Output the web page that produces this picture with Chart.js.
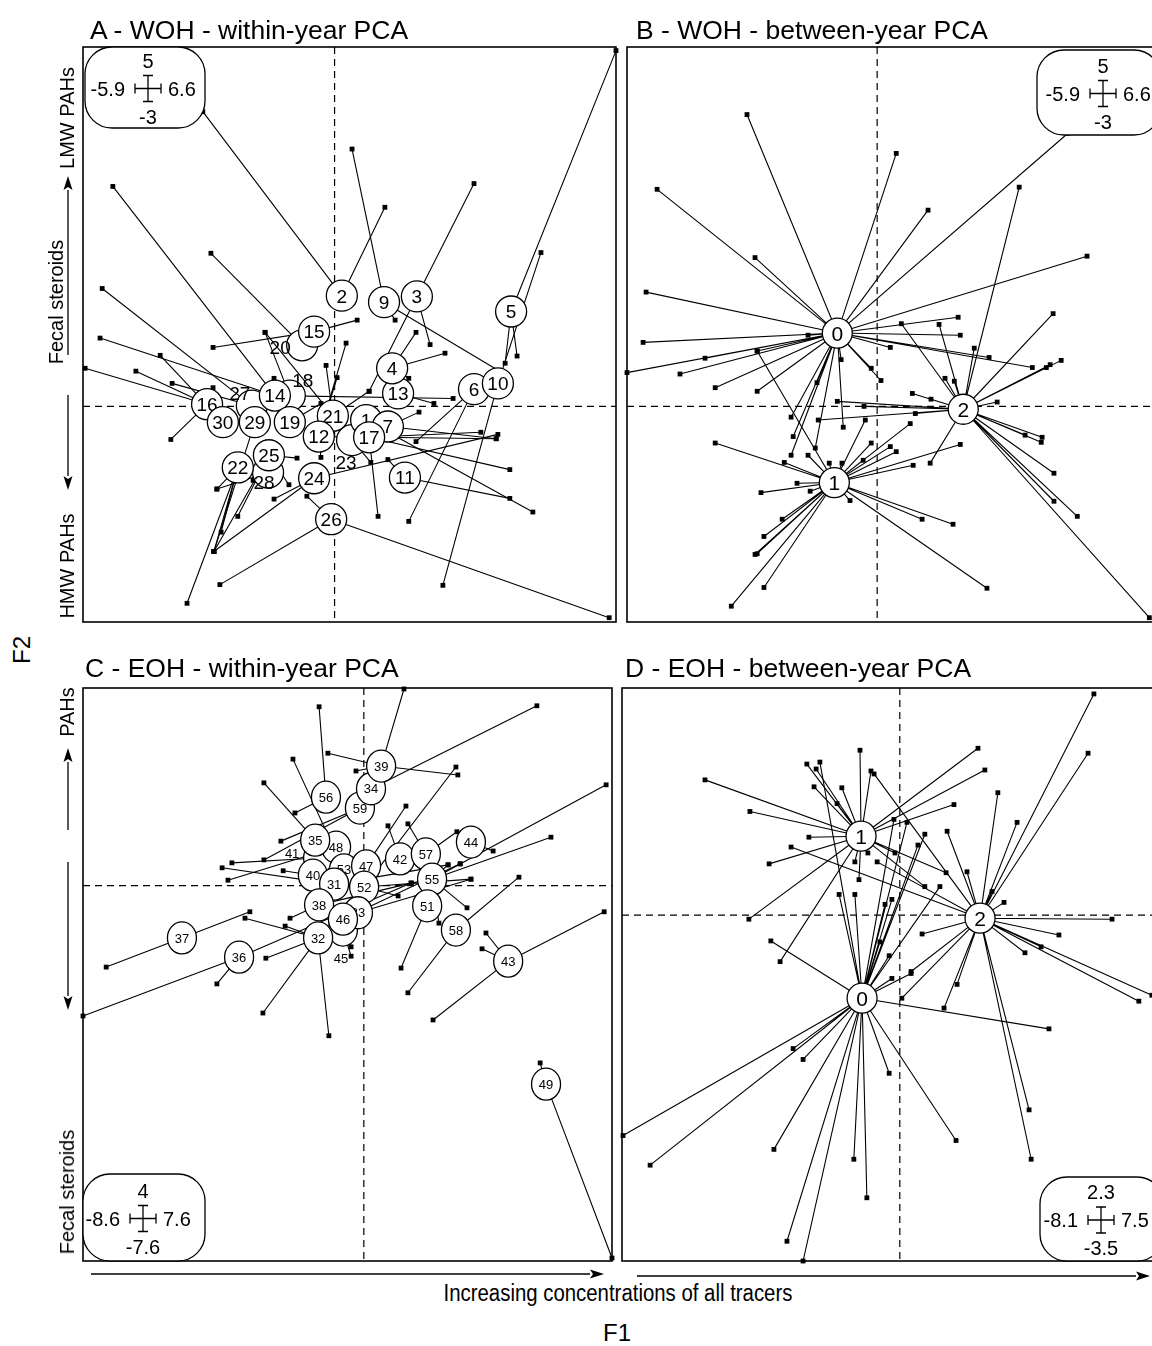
<!DOCTYPE html>
<html>
<head>
<meta charset="utf-8">
<script src="https://cdn.jsdelivr.net/npm/chart.js@4.4.1/dist/chart.umd.min.js"></script>
<style>
html,body{margin:0;padding:0;background:#fff;}
body{width:1152px;height:1346px;overflow:hidden;position:relative;font-family:"Liberation Sans",Arial,Helvetica,sans-serif;color:#000;}
canvas{position:absolute;}
.lbl{position:absolute;white-space:pre;line-height:1;}
</style>
</head>
<body>
<svg id="deco" width="1152" height="1346" style="position:absolute;left:0;top:0;"></svg>
<script>
// ================= DATA =================
// ---- Panel A : WOH within-year PCA ----
const aXRange = [-5.9, 6.6];
const aYRange = [-3, 5];
const aCentroids = ['20','27','18','23','28','1','7','21','13','4','2','9','3','5','6','10','15','14','16','30','29','19','12','17','22','25','24','11','26'];
const aCentroidX = [-0.76,-1.94,-1.05,0.41,-1.56,0.74,1.25,-0.04,1.49,1.35,0.17,1.16,1.93,4.14,3.27,3.83,-0.48,-1.40,-2.99,-2.62,-1.87,-1.05,-0.37,0.81,-2.27,-1.54,-0.48,1.65,-0.08];
const aCentroidY = [0.85,0.01,0.15,-0.47,-0.92,-0.19,-0.28,-0.13,0.18,0.53,1.54,1.45,1.53,1.32,0.24,0.32,1.04,0.15,0.03,-0.22,-0.22,-0.22,-0.42,-0.43,-0.85,-0.68,-1.00,-0.99,-1.57];
const aPointGroup = ['2','9','14','2','3','5','10','20','27','14','15','21','12','9','4','3','4','5','5','15','30','16','16','27','14','13','7','17','24','12','6','17','11','1','17','6','10','26','26','22','22','25','24','29','22','25','22','28','24','26','25','25','12','23','11','16','21','21','12','19','14','16','4','21','3','18','28','9','7'];
const aPointX = [-3.09,0.41,-5.20,1.18,3.27,6.60,4.84,-2.90,-5.45,-5.50,0.53,-1.63,0.27,1.42,1.91,2.24,2.59,4.28,4.00,-2.85,-4.09,-5.85,-4.66,-3.81,2.78,2.33,1.98,3.43,3.83,3.79,1.91,4.11,4.11,4.65,1.02,1.74,2.54,6.44,-2.69,-3.46,-2.83,-2.83,-2.83,-2.83,-2.66,-2.27,-2.76,-1.91,-1.42,-0.65,-1.07,-0.88,-0.32,0.85,1.25,-3.84,0.81,-0.20,0.06,-0.32,-1.42,-2.85,1.74,0.27,0.81,-1.63,-2.76,3.95,3.79];
const aPointY = [4.10,3.58,3.06,2.77,3.10,4.95,2.14,2.13,1.64,0.95,1.20,1.03,0.88,1.20,1.03,0.86,0.74,0.70,0.60,0.82,0.71,0.53,0.49,0.32,0.11,0.04,-0.08,-0.36,-0.39,-0.45,-0.49,-0.88,-1.28,-1.47,-1.53,-1.60,-2.49,-2.94,-2.48,-2.74,-2.02,-2.02,-2.02,-2.02,-1.75,-1.53,-1.15,-1.03,-1.29,-1.25,-1.09,-0.72,-0.71,-0.78,-0.74,-0.46,0.21,0.57,0.40,0.04,0.39,0.26,0.39,-0.51,0.21,1.03,-1.15,0.46,-0.45];

// ---- Panel B : WOH between-year PCA ----
const bXRange = [-5.9, 6.6];
const bYRange = [-3, 5];
const bCentroids = ['1','2','0'];
const bCentroidX = [-1.01, 2.03, -0.94];
const bCentroidY = [-1.06, -0.04, 1.02];
const bPointGroup = ['0','0','0','0','0','0','0','0','0','0','0','0','0','0','0','0','0','0','0','0','0','0','0','0','0','0','0','0','0','0',
  '2','2','2','2','2','2','2','2','2','2','2','2','2','2','2','2','2','2','2','2','2','2','2','2','2',
  '1','1','1','1','1','1','1','1','1','1','1','1','1','1','1','1','1','1','1','1','1','1','1','1','1','1','1'];
const bPointX = [-3.07,0.45,-5.19,1.20,4.95,-2.88,-5.45,1.91,1.96,4.50,-5.52,-5.90,-4.06,-4.65,-3.82,-2.83,-2.83,-1.63,0.31,3.66,-0.14,0.09,-2.03,-1.98,-2.03,-0.85,-0.80,-1.42,-1.46,2.64,
  4.34,4.08,3.99,2.83,3.89,3.87,3.49,4.17,4.72,4.17,6.42,1.25,-1.39,-0.31,-0.94,0.90,1.27,0.83,1.60,1.82,2.29,3.35,4.15,1.46,0.57,
  -3.82,-2.74,-1.89,-1.58,-2.24,-2.67,-2.83,-2.88,-2.67,-3.44,-0.64,1.06,1.79,2.59,1.96,-1.13,-0.83,-1.63,-0.28,0.78,0.45,0.31,-0.33,-0.14,-2.19,0.85,-2.83];
const bPointY = [4.06,3.52,3.02,2.73,2.09,2.07,1.59,1.24,0.99,3.80,0.89,0.47,0.67,0.45,0.26,0.21,0.77,0.99,0.82,0.54,0.53,0.36,-0.15,-0.42,-0.68,0.65,-0.29,0.33,-0.58,0.68,
  0.64,0.58,0.54,0.06,-0.43,-0.50,-0.40,-0.93,-1.53,-1.32,-2.94,-0.79,-0.19,0.00,0.07,-0.10,0.10,0.18,0.39,0.35,0.81,3.05,1.29,1.14,1.15,
  -0.51,-1.20,-1.07,-1.18,-1.57,-1.81,-2.05,-2.06,-2.52,-2.78,-1.31,-1.57,-1.64,-2.53,-0.53,-0.79,-0.79,-0.68,-0.19,-0.24,-0.63,-0.56,-0.75,-0.51,-0.78,-0.82,0.77];

// ---- Panel C : EOH within-year PCA ----
const cXRange = [-8.6, 7.6];
const cYRange = [-7.6, 4];
const cCentroids = ['41','45','48','59','34','39','56','35','53','40','31','47','52','42','57','55','44','38','33','46','32','51','58','37','36','43','49'];
const cCentroidX = [-1.40,-0.64,-0.85,-0.12,0.22,0.53,-1.16,-1.49,-0.61,-1.56,-0.91,0.07,0.01,1.11,1.90,2.09,3.28,-1.37,-0.18,-0.64,-1.40,1.94,2.82,-5.57,-3.82,4.42,5.58];
const cCentroidY = [0.56,-0.90,0.78,1.57,1.96,2.42,1.79,0.92,0.32,0.21,0.03,0.40,-0.03,0.54,0.64,0.13,0.88,-0.39,-0.55,-0.68,-1.06,-0.41,-0.90,-1.06,-1.45,-1.53,-4.02];
const cPointGroup = ['39','34','56','39','39','39','52','53','35','56','59','59','48','41','40','31','47','42','57','57','44','55','55','55','55','52','55','58','55','51','58','43','43','43','37','32','32','38','37','36','32','46','45','52','55','36','32','32','43','49','49','33','31','36','46','38'];
const cPointX = [1.23,5.30,-1.37,-1.10,-0.24,2.88,2.82,-2.17,-3.06,-2.11,-2.54,-3.06,-4.16,-4.04,-2.47,-4.34,1.29,0.74,1.35,2.85,3.96,7.42,5.73,2.95,2.58,3.28,3.16,4.75,2.30,1.14,1.35,3.74,3.62,7.36,-3.49,-3.64,-2.41,-2.26,-7.89,-4.50,-3.00,-0.39,-0.39,1.05,1.45,-8.60,-3.09,-1.07,2.12,5.40,7.60,3.28,2.58,1.45,2.95,1.45];
const cPointY = [3.98,3.64,3.62,2.68,2.32,2.24,2.40,2.56,2.08,1.47,0.90,0.52,0.11,0.46,0.30,0.36,1.61,1.21,1.25,1.09,0.70,2.04,0.98,0.44,0.42,0.13,-0.45,0.17,-0.76,-1.67,-2.17,-0.96,-1.28,-0.53,-0.53,-0.66,-0.82,-0.66,-1.65,-1.99,-1.47,-1.24,-1.43,-0.21,0.05,-2.64,-2.58,-3.04,-2.72,-3.59,-7.54,0.13,0.42,0.05,0.44,0.05];

// ---- Panel D : EOH between-year PCA ----
const dXRange = [-8.1, 7.5];
const dYRange = [-3.5, 2.3];
const dCentroids = ['1','2','0'];
const dCentroidX = [-1.13, 2.34, -1.10];
const dCentroidY = [0.80, -0.03, -0.84];
const dPointGroup = ['2','2','1','1','1','1','1','1','0','1','1','1','1','2','1','1','2','1','1','1','0','1','1','1','1','2','1','0','0','0','0','2','1','2','1','0','0','0','0','0','2','2','2','2','2','2','2','2','2','0','2','0','2','2','0','0','2','2','2','0','2','2','0','0','0','0','0','0','0','0','0','0','0'];
const dPointX = [5.66,5.49,2.28,2.48,1.58,-1.16,-2.71,-2.44,-2.33,-5.68,-2.50,-1.69,-0.84,-0.75,-4.37,-2.65,-3.17,-3.81,-4.40,-3.49,-3.76,-1.83,-1.19,-1.31,-0.93,-0.66,-0.14,0.21,-0.17,0.73,0.53,1.38,1.35,1.96,0.73,1.17,-1.77,-1.31,-0.23,-0.43,2.86,3.42,2.69,3.04,6.19,4.64,4.12,3.65,0.65,-0.31,0.33,-0.58,6.97,7.35,0.33,-0.23,0.06,1.67,1.29,4.35,3.77,3.83,1.64,-0.31,-0.96,-1.34,-2.82,-3.29,-3.67,-2.82,-3.11,-7.28,-8.07];
const dPointY = [2.24,1.64,1.69,1.47,1.12,1.67,1.53,1.48,1.55,1.37,1.30,1.29,1.46,1.43,1.05,0.79,0.69,0.52,-0.04,-0.47,-0.26,1.13,0.36,0.54,0.63,0.54,0.63,0.94,0.97,0.82,0.71,0.85,0.43,0.44,0.29,0.29,0.21,0.21,0.16,0.11,1.24,0.94,0.24,0.13,-0.04,-0.20,-0.32,-0.38,-0.19,-0.41,-0.57,-0.27,-0.87,-0.81,-0.59,-0.64,-0.84,-0.70,-0.94,-1.15,-1.97,-2.47,-2.28,-1.60,-2.86,-2.47,-3.50,-3.30,-2.37,-1.46,-1.35,-2.53,-2.23];

// ================= LAYOUT / STYLE =================
const panels = [
  {frame:{left:83,top:47,width:533,height:575}, xr:aXRange, yr:aYRange, names:aCentroids, cx:aCentroidX, cy:aCentroidY, pg:aPointGroup, px:aPointX, py:aPointY,
   rx:15.5, ry:15.5, fs:19, offsets:{'20':[-22,2],'27':[-12,-12],'18':[13,-15],'23':[-6,22],'28':[-4,10]},
   box:{left:2,top:0,w:120,h:81,cxOff:63}},
  {frame:{left:627,top:47,width:530,height:575}, xr:bXRange, yr:bYRange, names:bCentroids, cx:bCentroidX, cy:bCentroidY, pg:bPointGroup, px:bPointX, py:bPointY,
   rx:15, ry:15, fs:21, offsets:{}, box:{left:410,top:3,w:124,h:85,cxOff:66}},
  {frame:{left:83,top:688,width:529,height:573}, xr:cXRange, yr:cYRange, names:cCentroids, cx:cCentroidX, cy:cCentroidY, pg:cPointGroup, px:cPointX, py:cPointY,
   rx:14.5, ry:16, fs:13, offsets:{'41':[-26,-5],'45':[-2,28]}, box:{left:0,top:486,w:122,h:87,cxOff:60}},
  {frame:{left:622,top:688,width:535,height:573}, xr:dXRange, yr:dYRange, names:dCentroids, cx:dCentroidX, cy:dCentroidY, pg:dPointGroup, px:dPointX, py:dPointY,
   rx:15, ry:15, fs:21, offsets:{}, box:{left:418,top:489,w:124,h:84,cxOff:61}}
];

function fmt(v){ return String(v); }

function makeDecor(p){
  return {
    id:'decor',
    beforeDatasetsDraw(chart){
      const {ctx, chartArea:ca, scales:{x,y}} = chart;
      ctx.save();
      ctx.strokeStyle='#000'; ctx.lineWidth=1.2; ctx.setLineDash([7,5]);
      const x0=x.getPixelForValue(0), y0=y.getPixelForValue(0);
      ctx.beginPath();
      ctx.moveTo(x0,ca.top); ctx.lineTo(x0,ca.bottom);
      ctx.moveTo(ca.left,y0); ctx.lineTo(ca.right,y0);
      ctx.stroke();
      ctx.restore();
    },
    afterDatasetsDraw(chart){
      const {ctx, chartArea:ca, scales:{x,y}} = chart;
      ctx.save();
      ctx.strokeStyle='#000'; ctx.lineWidth=1.6; ctx.setLineDash([]);
      ctx.strokeRect(ca.left,ca.top,ca.right-ca.left,ca.bottom-ca.top);
      ctx.font = p.fs+'px "Liberation Sans", Arial, sans-serif';
      ctx.textAlign='center'; ctx.textBaseline='alphabetic';
      const late=[];
      p.names.forEach((n,i)=>{
        const X=x.getPixelForValue(p.cx[i]), Y=y.getPixelForValue(p.cy[i]);
        ctx.beginPath(); ctx.ellipse(X,Y,p.rx,p.ry,0,0,Math.PI*2);
        ctx.fillStyle='#fff'; ctx.fill();
        ctx.lineWidth=1.3; ctx.strokeStyle='#000'; ctx.stroke();
        if (p.offsets[n]) late.push([n,X+p.offsets[n][0],Y+p.offsets[n][1]]);
        else { ctx.fillStyle='#000'; ctx.fillText(n,X,Y+p.fs*0.36); }
      });
      ctx.fillStyle='#000';
      late.forEach(([n,X,Y])=>ctx.fillText(n,X,Y+p.fs*0.36));
      // scale box
      const b=p.box, bl=ca.left+b.left, bt=ca.top+b.top, r=27;
      ctx.beginPath();
      ctx.moveTo(bl+r,bt); ctx.lineTo(bl+b.w-r,bt); ctx.arcTo(bl+b.w,bt,bl+b.w,bt+r,r);
      ctx.lineTo(bl+b.w,bt+b.h-r); ctx.arcTo(bl+b.w,bt+b.h,bl+b.w-r,bt+b.h,r);
      ctx.lineTo(bl+r,bt+b.h); ctx.arcTo(bl,bt+b.h,bl,bt+b.h-r,r);
      ctx.lineTo(bl,bt+r); ctx.arcTo(bl,bt,bl+r,bt,r); ctx.closePath();
      ctx.fillStyle='#fff'; ctx.fill(); ctx.lineWidth=1.3; ctx.strokeStyle='#000'; ctx.stroke();
      const cx=bl+b.cxOff, cy=bt+b.h/2+1;
      ctx.lineWidth=1.3; ctx.beginPath();
      ctx.moveTo(cx-13,cy); ctx.lineTo(cx+13,cy);
      ctx.moveTo(cx-13,cy-5); ctx.lineTo(cx-13,cy+5);
      ctx.moveTo(cx+13,cy-5); ctx.lineTo(cx+13,cy+5);
      ctx.moveTo(cx,cy-13); ctx.lineTo(cx,cy+13);
      ctx.moveTo(cx-5,cy-13); ctx.lineTo(cx+5,cy-13);
      ctx.moveTo(cx-5,cy+13); ctx.lineTo(cx+5,cy+13);
      ctx.stroke();
      ctx.fillStyle='#000'; ctx.font='20px "Liberation Sans", Arial, sans-serif';
      ctx.textAlign='center';
      ctx.fillText(fmt(p.yr[1]),cx,cy-21);
      ctx.fillText(fmt(p.yr[0]),cx,cy+35);
      ctx.textAlign='right'; ctx.fillText(fmt(p.xr[0]),cx-23,cy+7);
      ctx.textAlign='left'; ctx.fillText(fmt(p.xr[1]),cx+20,cy+7);
      ctx.restore();
    }
  };
}

function makePanel(p){
  const pad=10;
  const c=document.createElement('canvas');
  const W=p.frame.width+2*pad, H=p.frame.height+2*pad;
  c.width=W; c.height=H;
  c.style.left=(p.frame.left-pad)+'px'; c.style.top=(p.frame.top-pad)+'px';
  c.style.width=W+'px'; c.style.height=H+'px';
  document.body.appendChild(c);
  const datasets=[];
  p.names.forEach((n,i)=>{
    const seq=[];
    p.pg.forEach((g,j)=>{
      if(g===n){ seq.push({x:p.cx[i],y:p.cy[i]}); seq.push({x:p.px[j],y:p.py[j]}); }
    });
    if(seq.length) datasets.push({data:seq, showLine:true, pointRadius:0, borderColor:'#000', borderWidth:1.1,
      borderJoinStyle:'round', clip:false, order:2});
  });
  datasets.push({data:p.px.map((v,j)=>({x:v,y:p.py[j]})), showLine:false, pointStyle:'rect', pointRadius:3.4,
    pointBackgroundColor:'#000', pointBorderWidth:0, clip:false, order:1});
  new Chart(c,{type:'scatter', data:{datasets},
    options:{responsive:false, animation:false, events:[], layout:{padding:pad},
      scales:{x:{type:'linear',min:p.xr[0],max:p.xr[1],display:false},
              y:{type:'linear',min:p.yr[0],max:p.yr[1],display:false}},
      plugins:{legend:{display:false},tooltip:{enabled:false}}},
    plugins:[makeDecor(p)]});
}
panels.forEach(makePanel);

// ---- texts ----
function txt(s,x,y,size,mode){
  const d=document.createElement('div'); d.className='lbl'; d.textContent=s;
  d.style.fontSize=size+'px'; d.style.left=x+'px'; d.style.top=y+'px';
  if(mode==='rot') d.style.transform='translate(-50%,-50%) rotate(-90deg)';
  else if(mode==='left') d.style.transform='translate(0,-50%)';
  else d.style.transform='translate(-50%,-50%)';
  document.body.appendChild(d); return d;
}
txt('A - WOH - within-year PCA',90,30,26.5,'left');
txt('B - WOH - between-year PCA',636,30,26.5,'left');
txt('C - EOH - within-year PCA',85,668,26.5,'left');
txt('D - EOH - between-year PCA',625,668,26.5,'left');
txt('LMW PAHs',67,118,20,'rot');
txt('Fecal steroids',56,302,20,'rot');
txt('HMW PAHs',67,566,20,'rot');
txt('PAHs',67,712,20,'rot');
txt('Fecal steroids',67,1192,20,'rot');
txt('F2',22,650,24,'rot');
txt('F1',617,1333,24,'center');
const bt=txt('Increasing concentrations of all tracers',618,1293,23,'center');
bt.style.fontFamily='"Liberation Sans Narrow","Liberation Sans",Arial,sans-serif';
const w=bt.getBoundingClientRect().width;
bt.style.transform='translate(-50%,-50%) scaleX('+(349/w).toFixed(3)+')';

// ---- margin arrows ----
const svg=document.getElementById('deco');
function arrow(x1,y1,x2,y2){
  const dx=x2-x1, dy=y2-y1, L=Math.hypot(dx,dy), ux=dx/L, uy=dy/L, hl=14, hw=4.5;
  const bx=x2-ux*hl, by=y2-uy*hl;
  svg.insertAdjacentHTML('beforeend',
    `<line x1="${x1}" y1="${y1}" x2="${bx}" y2="${by}" stroke="#000" stroke-width="1.3"/>`+
    `<polygon points="${x2},${y2} ${bx-uy*hw},${by+ux*hw} ${bx+ux*3},${by+uy*3} ${bx+uy*hw},${by-ux*hw}" fill="#000"/>`);
}
arrow(68,355,68,176);
arrow(68,395,68,490);
arrow(68,830,68,748);
arrow(68,862,68,1010);
arrow(91,1274,604,1274);
arrow(637,1276,1150,1276);
</script>
</body>
</html>
